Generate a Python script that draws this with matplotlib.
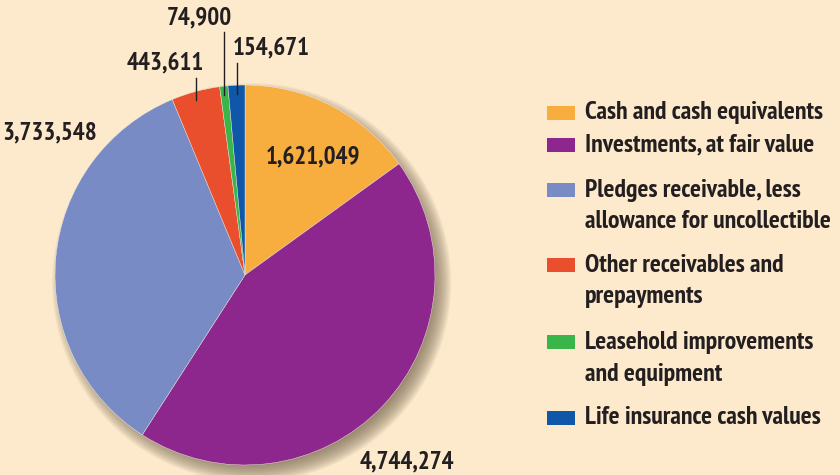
import numpy as np
import matplotlib
matplotlib.use("Agg")
import matplotlib.pyplot as plt
from matplotlib.patches import Circle, Rectangle

categories = ["Cash and cash equivalents", "Investments, at fair value",
              "Pledges receivable, less\nallowance for uncollectible",
              "Other receivables and\nprepayments",
              "Leasehold improvements\nand equipment",
              "Life insurance cash values"]
values = [1621049, 4744274, 3733548, 443611, 74900, 154671]
labels = ["1,621,049", "4,744,274", "3,733,548", "443,611", "74,900", "154,671"]
colors = ["#F8AE3E", "#8D268D", "#788BC4", "#EA4F2D", "#3AB54A", "#0F57A8"]

BG = "#FDEACD"
TXT = "#231F20"
FONT = ["PT Sans Narrow", "Fira Sans Condensed", "Asap Condensed",
        "Archivo Narrow", "DejaVu Sans"]

W, H = 840, 475
fig = plt.figure(figsize=(W / 100, H / 100), dpi=100, facecolor=BG)

cx, cy, r = 245, 275, 190
ax = fig.add_axes([(cx - r) / W, (H - cy - r) / H, 2 * r / W, 2 * r / H])
ax.set_facecolor("none")
ax.set_xlim(-1, 1)
ax.set_ylim(-1, 1)
ax.set_aspect("equal")
ax.axis("off")

# soft drop shadow
n = 16
for i in range(n):
    rr = 1.0 + 0.05 * (i / (n - 1) - 0.5) * 2
    ax.add_patch(Circle((0.035, -0.04), rr, facecolor="#76674f",
                        edgecolor="none", alpha=0.075, zorder=0, clip_on=False))

wedges, _ = ax.pie(values, colors=colors, startangle=90, counterclock=False,
                   radius=1.0, wedgeprops=dict(edgecolor="#f4eee6", linewidth=0.3),
                   frame=False)
for w in wedges:
    w.set_zorder(2)
ax.set_xlim(-1, 1)
ax.set_ylim(-1, 1)

tkw = dict(fontsize=18, fontweight="bold", color=TXT, family=FONT,
           ha="center", va="center", zorder=5)

# label positions (data coords)
pos = {0: (0.36, 0.62), 1: (0.85, -0.985), 2: (-1.03, 0.745),
       3: (-0.42, 1.115), 4: (-0.24, 1.355), 5: (0.14, 1.195)}
for i, p in pos.items():
    ax.text(p[0], p[1], labels[i], clip_on=False, **tkw)

# leader lines for small slices
tops = {3: 1.035, 4: 1.28, 5: 1.115}
for i, ytop in tops.items():
    w = wedges[i]
    mid = np.deg2rad((w.theta1 + w.theta2) / 2)
    x = 0.985 * np.cos(mid)
    ybot = 0.985 * np.sin(mid) - 0.03
    ax.plot([x, x], [ybot, ytop], color=TXT, lw=1.0, zorder=5, clip_on=False)

# legend (manual, figure pixel coords)
rows = [113, 145, 190, 265, 342, 418]
line_gap = 32
for i, yc in enumerate(rows):
    fig.patches.append(Rectangle((547 / W, (H - yc - 7) / H), 28 / W, 14 / H,
                                 transform=fig.transFigure, facecolor=colors[i],
                                 edgecolor="none"))
    nl = categories[i].count("\n")
    ytxt = yc + line_gap * nl / 2
    fig.text(585 / W, (H - ytxt) / H, categories[i], fontsize=18.5, fontweight="bold",
             color=TXT, family=FONT, ha="left", va="center", linespacing=1.5)

fig.savefig("out.png", dpi=100, facecolor=BG)
